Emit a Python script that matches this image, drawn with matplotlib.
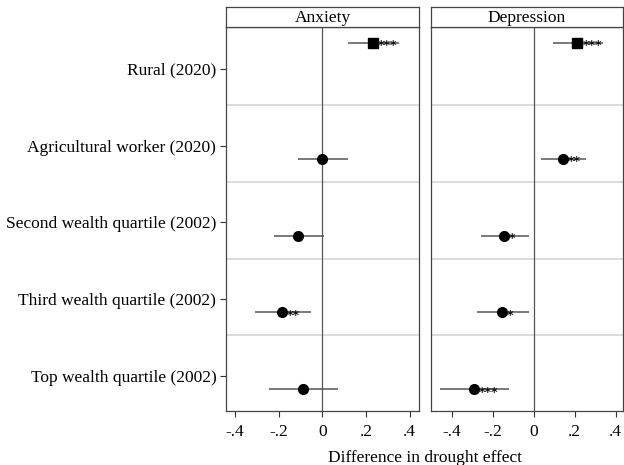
import numpy as np
import matplotlib.pyplot as plt

# Data
categories = ['Rural (2020)', 'Agricultural worker (2020)', 'Second wealth quartile (2002)',
              'Third wealth quartile (2002)', 'Top wealth quartile (2002)']
panels = ['Anxiety', 'Depression']

anx_est = [0.23, 0.00, -0.11, -0.183, -0.09]
anx_lo = [0.116, -0.112, -0.22, -0.308, -0.244]
anx_hi = [0.352, 0.119, 0.008, -0.053, 0.07]
anx_stars = ['***', '', '', '**', '']

dep_est = [0.213, 0.141, -0.143, -0.153, -0.291]
dep_lo = [0.096, 0.036, -0.257, -0.274, -0.454]
dep_hi = [0.34, 0.255, -0.023, -0.023, -0.122]
dep_stars = ['***', '**', '*', '*', '***']

xticks = [-0.4, -0.2, 0, 0.2, 0.4]
xticklabels = ['-.4', '-.2', '0', '.2', '.4']

plt.rcParams['font.family'] = ['Liberation Serif', 'DejaVu Serif']

fig = plt.figure(figsize=(6.24, 4.65), dpi=100)

W, H = 624, 465
def frac(x0, y0, x1, y1):
    return [x0 / W, 1 - y1 / H, (x1 - x0) / W, (y1 - y0) / H]

axes_px = [(226, 419), (431, 623)]
xlims = [(-0.44, 0.442), (-0.50, 0.435)]
series = [(anx_est, anx_lo, anx_hi, anx_stars), (dep_est, dep_lo, dep_hi, dep_stars)]

ypos = np.arange(1, len(categories) + 1)
# rural row is drawn above its label, the others slightly below
offsets = np.array([-0.34, 0.17, 0.17, 0.17, 0.17])

for i, (x0, x1) in enumerate(axes_px):
    ax = fig.add_axes(frac(x0, 27, x1, 411))
    est, lo, hi, stars = series[i]
    ax.set_xlim(*xlims[i])
    ax.set_ylim(5.455, 0.455)

    for y in ypos[:-1] + 0.47:
        ax.axhline(y, color='#dcdcdc', lw=1.4, zorder=0)
    ax.axvline(0, color='#555555', lw=0.9, zorder=1)

    yy = ypos + offsets
    ax.hlines(yy, lo, hi, color='#555555', lw=1.1, zorder=2)
    ax.plot(est[:1], yy[:1], 's', color='black', ms=6.5, zorder=3)
    ax.plot(est[1:], yy[1:], 'o', color='black', ms=7, zorder=3)
    for x, y, s in zip(est, yy, stars):
        if s:
            ax.annotate(s, (x, y), xytext=(3.5, -4.8), textcoords='offset points',
                        ha='left', va='baseline', fontsize=9, color='#111111',
                        family='DejaVu Sans', fontweight='bold', zorder=4)

    ax.set_xticks(xticks)
    ax.set_xticklabels(xticklabels, fontsize=12.5)
    ax.tick_params(axis='x', direction='out', length=4, color='#333333', pad=5)
    if i == 0:
        ax.set_yticks(ypos)
        ax.set_yticklabels(categories, fontsize=12.5)
        ax.tick_params(axis='y', direction='out', length=4, color='#333333', pad=3)
    else:
        ax.set_yticks([])
    for sp in ax.spines.values():
        sp.set_color('#444444')
        sp.set_linewidth(0.9)

    strip = fig.add_axes(frac(x0, 7, x1, 27))
    strip.set_xticks([])
    strip.set_yticks([])
    for sp in strip.spines.values():
        sp.set_color('#444444')
        sp.set_linewidth(0.9)
    strip.text(0.5, 0.45, panels[i], ha='center', va='center', fontsize=12.5,
               transform=strip.transAxes)

fig.text(424.5 / W, 1 - 458 / H, 'Difference in drought effect', ha='center', va='center',
         fontsize=12.5)

fig.savefig('out.png', dpi=100)
